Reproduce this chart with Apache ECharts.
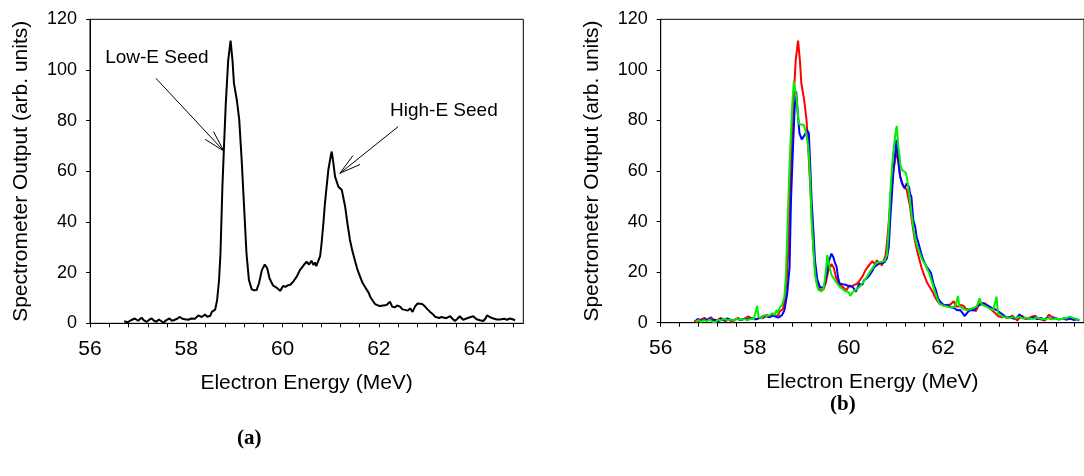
<!DOCTYPE html>
<html><head><meta charset="utf-8">
<script src="https://cdn.jsdelivr.net/npm/echarts/dist/echarts.min.js"></script>
<style>html,body{margin:0;padding:0;background:#fff;}#c{width:1084px;height:476px;}</style>
</head><body><div id="c"></div>
<script>
// Panel (a): single shot (black); the same shot is the red trace in panel (b)
const energyA = [56.71,56.78,56.85,56.93,57.00,57.07,57.12,57.18,57.23,57.28,57.33,57.38,57.43,57.47,57.53,57.58,57.65,57.70,57.75,57.81,57.86,57.92,57.97,58.04,58.11,58.18,58.25,58.29,58.32,58.36,58.39,58.43,58.46,58.50,58.53,58.57,58.60,58.64,58.68,58.71,58.75,58.78,58.82,58.87,58.92,58.96,58.99,59.05,59.10,59.15,59.20,59.25,59.30,59.36,59.41,59.46,59.51,59.57,59.63,59.68,59.73,59.80,59.88,59.95,60.01,60.06,60.11,60.16,60.22,60.29,60.36,60.44,60.50,60.55,60.60,60.64,60.67,60.70,60.74,60.78,60.81,60.85,60.88,60.95,61.00,61.02,61.05,61.09,61.16,61.23,61.30,61.35,61.40,61.45,61.50,61.55,61.61,61.66,61.71,61.75,61.79,61.82,61.87,61.92,61.97,62.02,62.09,62.16,62.23,62.28,62.33,62.38,62.44,62.49,62.54,62.60,62.65,62.70,62.75,62.80,62.84,62.90,62.96,63.01,63.06,63.11,63.17,63.25,63.30,63.34,63.40,63.48,63.53,63.58,63.63,63.68,63.75,63.82,63.89,63.96,64.03,64.10,64.17,64.21,64.25,64.30,64.38,64.45,64.52,64.60,64.66,64.72,64.78,64.83];
const outputA = [0.8,0.4,1.2,1.9,1.0,2.2,1.2,0.6,1.4,1.9,1.0,0.6,1.5,2.2,0.2,1.2,1.9,1.0,1.3,1.8,2.5,1.8,1.6,1.4,1.9,1.8,3.1,2.6,2.5,3.2,3.5,2.6,2.8,3.0,4.5,5.0,5.4,9.1,17.0,27.5,53.8,68.2,86.6,103.7,111.6,103.7,94.7,88.1,80.3,64.5,46.1,27.7,17.2,13.4,13.0,13.1,15.8,21.0,23.2,21.7,17.7,15.0,14.0,12.8,14.7,14.4,15.0,15.2,16.4,18.3,21.0,23.0,24.3,23.2,24.7,23.0,24.0,22.6,23.0,26.5,31.6,40.0,47.4,60.5,66.0,67.8,64.0,57.9,53.9,52.6,46.0,39.0,32.9,28.5,25.0,21.5,18.4,16.0,14.4,14.5,12.0,10.5,9.0,7.6,7.2,6.8,7.0,7.2,8.5,6.5,6.3,7.0,6.6,5.5,5.3,5.0,5.9,4.5,6.6,7.8,8.1,7.6,6.6,5.5,4.6,3.8,2.6,2.1,2.5,2.3,2.0,2.8,1.8,0.9,1.8,2.8,1.4,1.9,2.4,2.8,1.6,1.2,0.9,1.8,3.2,2.5,1.9,1.5,1.5,1.8,1.4,1.9,1.6,1.2];

// Panel (b): three shots
const energyRed = energyA;
const outputRed = outputA;
const energyBlue = [56.75,56.80,56.86,56.92,56.98,57.04,57.10,57.15,57.22,57.28,57.35,57.42,57.48,57.55,57.62,57.70,57.78,57.85,57.92,58.00,58.06,58.12,58.18,58.25,58.32,58.38,58.44,58.50,58.54,58.58,58.63,58.69,58.74,58.77,58.81,58.85,58.88,58.92,58.95,59.00,59.03,59.07,59.11,59.15,59.18,59.21,59.25,59.28,59.33,59.39,59.46,59.50,59.53,59.58,59.63,59.67,59.71,59.74,59.77,59.80,59.86,59.94,60.00,60.08,60.11,60.15,60.22,60.29,60.32,60.38,60.43,60.50,60.54,60.60,60.65,60.71,60.76,60.81,60.85,60.88,60.92,60.95,60.98,61.01,61.05,61.09,61.13,61.19,61.23,61.28,61.30,61.33,61.37,61.41,61.44,61.48,61.54,61.58,61.65,61.70,61.75,61.80,61.85,61.90,61.95,62.02,62.10,62.16,62.24,62.31,62.37,62.42,62.46,62.52,62.58,62.65,62.72,62.78,62.86,62.93,63.00,63.07,63.14,63.20,63.24,63.30,63.35,63.42,63.50,63.57,63.63,63.68,63.77,63.85,63.92,64.00,64.08,64.15,64.22,64.30,64.38,64.45,64.55,64.62,64.70,64.78,64.85,64.90];
const outputBlue = [1.0,1.5,0.6,1.3,0.9,1.8,0.8,1.2,0.5,1.4,1.0,1.7,1.2,0.9,1.5,1.1,1.6,1.3,1.8,1.4,1.6,1.9,2.6,2.4,2.2,2.8,2.4,2.0,1.6,3.0,4.9,11.5,22.0,48.4,68.0,85.4,91.4,81.5,74.9,72.5,72.2,74.5,76.2,74.9,62.0,48.0,35.0,24.7,17.0,14.0,13.9,16.0,19.4,24.5,27.3,26.0,23.4,22.2,18.0,15.6,15.2,15.0,14.4,14.2,13.9,12.3,15.4,15.0,16.8,17.5,18.5,20.5,22.0,22.8,24.0,23.5,24.0,25.5,30.0,40.6,52.0,60.4,66.0,72.3,64.4,58.0,55.1,53.2,55.1,53.7,51.2,49.8,40.6,38.0,34.0,31.5,27.4,25.0,22.2,21.0,19.5,15.4,12.9,9.5,8.2,6.9,7.0,6.2,5.8,4.9,5.0,3.8,2.6,4.0,5.0,4.8,6.3,7.0,7.7,6.9,6.3,5.5,5.0,4.2,3.7,2.8,1.8,2.2,1.6,1.9,3.3,2.2,1.8,1.6,2.2,1.4,1.9,1.2,2.0,1.5,1.8,1.3,1.6,1.2,1.6,1.1,1.4,0.8];
const energyGreen = [56.75,56.80,56.86,56.92,56.98,57.04,57.10,57.16,57.22,57.28,57.35,57.42,57.48,57.55,57.62,57.70,57.78,57.85,57.92,57.98,58.02,58.05,58.08,58.14,58.20,58.26,58.32,58.38,58.42,58.46,58.49,58.53,58.58,58.63,58.66,58.69,58.72,58.75,58.80,58.83,58.86,58.89,58.92,58.94,58.98,59.04,59.08,59.12,59.15,59.18,59.21,59.25,59.28,59.32,59.35,59.42,59.46,59.49,59.52,59.54,59.57,59.59,59.63,59.66,59.70,59.75,59.80,59.88,59.94,60.00,60.03,60.06,60.10,60.15,60.22,60.29,60.36,60.43,60.50,60.57,60.64,60.71,60.76,60.81,60.85,60.88,60.92,60.95,61.00,61.02,61.05,61.07,61.10,61.13,61.17,61.21,61.24,61.26,61.30,61.33,61.37,61.40,61.45,61.51,61.56,61.61,61.66,61.71,61.77,61.82,61.87,61.92,62.00,62.10,62.17,62.24,62.28,62.32,62.35,62.37,62.44,62.51,62.58,62.65,62.72,62.78,62.83,62.88,62.93,63.00,63.07,63.11,63.14,63.17,63.22,63.28,63.35,63.42,63.50,63.56,63.63,63.70,63.77,63.84,63.92,64.00,64.08,64.16,64.24,64.32,64.40,64.48,64.56,64.64,64.70,64.74,64.78,64.85,64.90];
const outputGreen = [0.5,1.0,0.3,1.0,0.5,1.4,0.4,0.2,1.2,0.8,1.6,0.9,1.3,0.8,1.5,1.2,1.4,1.0,1.6,1.4,2.0,6.7,2.2,1.8,3.0,2.6,2.9,3.8,3.0,5.0,3.8,6.0,7.0,10.3,18.0,34.0,52.0,67.0,86.9,95.3,92.0,88.2,82.0,78.6,78.2,78.2,76.0,72.0,67.0,55.0,40.0,28.0,19.6,15.0,13.0,12.4,13.5,16.9,22.0,26.8,24.0,22.0,19.0,18.5,16.9,15.5,14.3,13.0,12.4,12.0,10.6,11.5,12.5,13.0,14.0,15.6,17.5,19.6,21.5,23.5,24.0,24.1,24.5,26.8,38.0,51.2,62.0,68.3,76.0,77.8,70.0,67.0,62.0,60.4,60.0,59.3,57.0,53.8,48.0,43.3,38.0,34.0,30.5,27.4,25.0,23.5,21.5,19.5,16.0,12.9,10.0,7.7,6.8,6.3,6.0,6.3,7.5,10.6,6.5,5.8,5.3,5.0,5.4,5.8,6.5,9.6,7.0,6.8,6.3,5.5,5.0,5.5,10.3,3.7,3.0,2.4,2.0,1.8,2.2,1.8,2.4,1.6,2.0,1.8,1.5,2.0,1.6,1.4,1.8,1.3,1.7,1.4,1.6,1.9,2.4,3.0,1.8,1.4,1.0];

// Axis ticks / labels
const xMin = 56, xMax = 65, xTickStep = 0.4, xLabelStep = 2;
const yMin = 0, yMax = 120, yTickStep = 20;
const xTitle = 'Electron Energy (MeV)';
const yTitle = 'Spectrometer Output (arb. units)';
const panelLabels = ['(a)', '(b)'];

// Annotations in panel (a), in data units
const annotationText = ['Low-E Seed', 'High-E Seed'];
const annotationAt = [[57.39, 104.7], [63.35, 83.8]];
const arrowFrom = [[57.37, 96.7], [62.40, 77.6]];
const arrowTo = [[58.78, 68.0], [61.19, 59.2]];

const pair = (xs, ys) => xs.map((x, i) => [x, ys[i]]);
const FONT = 'Liberation Sans, Arial, sans-serif';

function xAxisFor(gi) {
  return {
    type: 'value', gridIndex: gi, min: xMin, max: xMax, interval: xTickStep,
    axisLine: { show: true, onZero: false, lineStyle: { color: '#000', width: 1 } },
    axisTick: { show: true, inside: false, length: 4, lineStyle: { color: '#000', width: 1 } },
    axisLabel: {
      color: '#000', fontSize: 21, fontFamily: FONT, margin: 15, showMaxLabel: false,
      formatter: v => (Math.abs(v / xLabelStep - Math.round(v / xLabelStep)) < 1e-6 && v < xMax) ? String(Math.round(v)) : ''
    },
    splitLine: { show: false },
    name: xTitle, nameLocation: 'middle', nameGap: 49,
    nameTextStyle: { color: '#000', fontSize: 21, fontFamily: FONT }
  };
}
function yAxisFor(gi) {
  return {
    type: 'value', gridIndex: gi, min: yMin, max: yMax, interval: yTickStep,
    axisLine: { show: true, lineStyle: { color: '#000', width: 1 } },
    axisTick: { show: true, inside: false, length: 4, lineStyle: { color: '#000', width: 1 } },
    axisLabel: { color: '#000', fontSize: 18, fontFamily: FONT, margin: 13 },
    splitLine: { show: false },
    name: yTitle, nameLocation: 'middle', nameGap: 58,
    nameTextStyle: { color: '#000', fontSize: 21, fontFamily: FONT }
  };
}
function lineSeries(name, xs, ys, color, gi) {
  return {
    name, type: 'line', xAxisIndex: gi, yAxisIndex: gi, data: pair(xs, ys),
    showSymbol: false, symbol: 'none', smooth: false, animation: false,
    lineStyle: { color, width: 2 }, silent: true
  };
}

const chart = echarts.init(document.getElementById('c'), null, { renderer: 'canvas' });
chart.setOption({
  animation: false,
  backgroundColor: '#fff',
  grid: [
    { left: 90, top: 19.3, width: 433.3, height: 304, show: true, borderColor: '#000', borderWidth: 1, backgroundColor: 'transparent' },
    { left: 660.7, top: 19.3, width: 432, height: 303.4, show: true, borderColor: '#000', borderWidth: 1, backgroundColor: 'transparent' }
  ],
  xAxis: [xAxisFor(0), xAxisFor(1)],
  yAxis: [yAxisFor(0), yAxisFor(1)],
  series: [
    lineSeries('shot', energyA, outputA, '#000', 0),
    lineSeries('red', energyRed, outputRed, '#ff0000', 1),
    lineSeries('blue', energyBlue, outputBlue, '#0000ff', 1),
    lineSeries('green', energyGreen, outputGreen, '#00ee00', 1),
    {
      type: 'custom', xAxisIndex: 0, yAxisIndex: 0, silent: true, animation: false, clip: false,
      data: arrowTo.map(p => [p[0], p[1]]),
      renderItem: function (params, api) {
        const i = params.dataIndex;
        const p0 = api.coord(arrowFrom[i]);
        const p1 = api.coord(arrowTo[i]);
        const pt = api.coord(annotationAt[i]);
        const ang = Math.atan2(p0[1] - p1[1], p0[0] - p1[0]);
        const L = 22, a = 15 * Math.PI / 180;
        const h1 = [p1[0] + L * Math.cos(ang + a), p1[1] + L * Math.sin(ang + a)];
        const h2 = [p1[0] + L * Math.cos(ang - a), p1[1] + L * Math.sin(ang - a)];
        const st = { stroke: '#000', lineWidth: 1 };
        return {
          type: 'group', children: [
            { type: 'line', shape: { x1: p0[0], y1: p0[1], x2: p1[0], y2: p1[1] }, style: st },
            { type: 'line', shape: { x1: p1[0], y1: p1[1], x2: h1[0], y2: h1[1] }, style: st },
            { type: 'line', shape: { x1: p1[0], y1: p1[1], x2: h2[0], y2: h2[1] }, style: st },
            { type: 'text', x: pt[0], y: pt[1], style: { text: annotationText[i], fill: '#000', fontSize: 19, fontFamily: FONT, align: 'center', verticalAlign: 'middle', textAlign: 'center', textVerticalAlign: 'middle' } }
          ]
        };
      }
    }
  ],
  graphic: [
    { type: 'text', left: 237, top: 428, style: { text: panelLabels[0], fill: '#000', font: 'bold 21px "Liberation Serif", "Times New Roman", serif' } },
    { type: 'text', left: 830, top: 394, style: { text: panelLabels[1], fill: '#000', font: 'bold 21px "Liberation Serif", "Times New Roman", serif' } }
  ]
});
</script>
</body></html>
